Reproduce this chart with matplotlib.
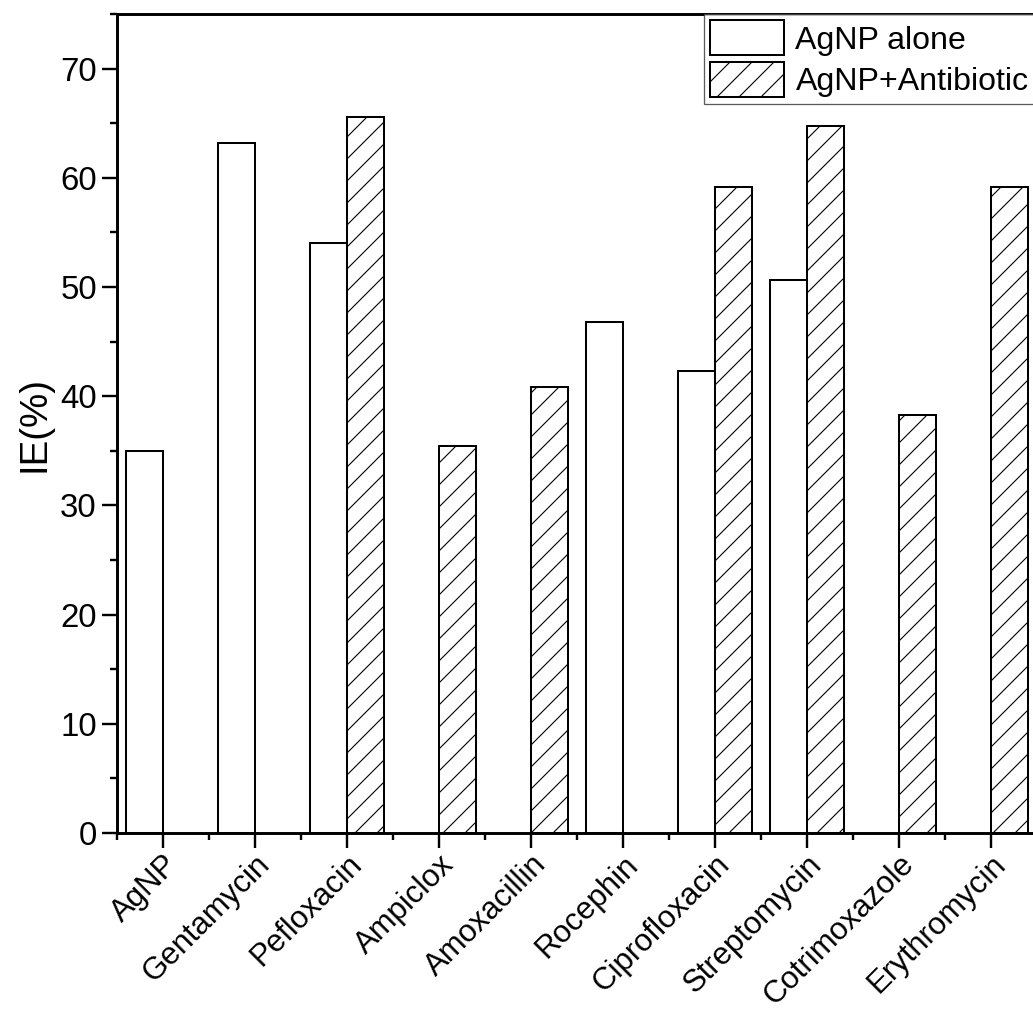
import matplotlib.pyplot as plt
import numpy as np
from matplotlib.ticker import MultipleLocator, FixedLocator

plt.rcParams['font.family'] = ['Liberation Sans', 'DejaVu Sans']
plt.rcParams['hatch.linewidth'] = 0.6

drugs = ['AgNP', 'Gentamycin', 'Pefloxacin', 'Ampiclox', 'Amoxacillin',
         'Rocephin', 'Ciprofloxacin', 'Streptomycin', 'Cotrimoxazole', 'Erythromycin']
# 0 = not tested for that group
alone = [35.0, 63.2, 54.0, 0, 0, 46.8, 42.3, 50.6, 0, 0]
combined = [0, 0, 65.6, 35.4, 40.8, 0, 59.2, 64.7, 38.3, 59.2]

dpi = 132
fig = plt.figure(figsize=(1033 / dpi, 1009 / dpi), dpi=dpi)
ax = fig.add_axes([117 / 1033, 176 / 1009, 920 / 1033, 819 / 1009])

x = np.arange(len(drugs))
w = 0.4
a = np.array(alone, dtype=float)
c = np.array(combined, dtype=float)
a[a == 0] = np.nan
c[c == 0] = np.nan
ax.bar(x - w / 2, a, w, color='white', edgecolor='black', linewidth=1.1,
       label='AgNP alone')
ax.bar(x + w / 2, c, w, color='white', edgecolor='black', linewidth=1.1,
       hatch='//', label='AgNP+Antibiotic')

ax.set_xlim(-0.5, 9.5)
ax.set_ylim(0, 75)
ax.set_xticks(x)
ax.set_xticklabels(drugs, rotation=45, ha='right', va='top', rotation_mode='anchor',
                   fontsize=17)
ax.xaxis.set_minor_locator(FixedLocator(np.arange(-0.5, 10, 1.0)))
ax.yaxis.set_major_locator(MultipleLocator(10))
ax.yaxis.set_minor_locator(MultipleLocator(5))

ax.tick_params(axis='y', which='major', labelsize=18)
ax.tick_params(axis='both', which='major', length=8, width=1.3,
               direction='out', pad=3)
ax.tick_params(axis='both', which='minor', length=4, width=1.3, direction='out')
ax.tick_params(axis='x', which='major', pad=1)
for s in ax.spines.values():
    s.set_linewidth(1.6)

ax.set_ylabel('IE(%)', fontsize=21, labelpad=4)

leg = fig.legend(loc='upper left', bbox_to_anchor=(704 / 1033, 1 - 14 / 1009),
                 fontsize=17.5, frameon=True, fancybox=False, borderaxespad=0,
                 borderpad=0.2, handlelength=2.3, handleheight=1.3,
                 handletextpad=0.35, labelspacing=0.2)
leg.get_frame().set_edgecolor('#333333')
leg.get_frame().set_linewidth(0.7)

plt.savefig('out.png', dpi=dpi)
